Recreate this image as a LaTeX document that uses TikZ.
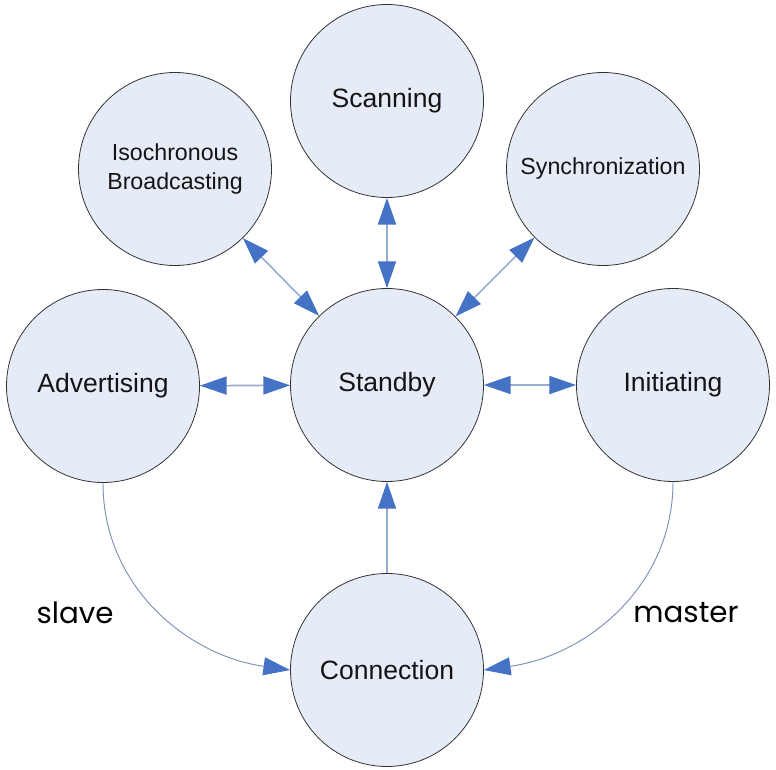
\documentclass[tikz,border=0pt]{standalone}
\usepackage{fontspec}
\setmainfont{Liberation Sans}
\newfontfamily\roleFont{Poppins}
\usetikzlibrary{arrows.meta}

\definecolor{stateFill}{RGB}{230,236,247}
\definecolor{tipBlue}{RGB}{68,114,196}
\definecolor{linkLine}{RGB}{150,172,208}
\definecolor{arcLine}{RGB}{125,143,180}

\tikzset{every picture/.style={line width=0.75pt}}
\tikzset{
	state/.style={circle, draw=black!80, fill=stateFill, line width=0.6pt, minimum size=144.75pt, inner sep=0pt, align=center, text=black!92, font=\fontsize{19.9}{22}\selectfont},
	statesmall/.style={state, font=\fontsize{17.4}{21.8}\selectfont},
	tipA/.tip={Triangle[length=20pt,width=13.5pt,color=tipBlue]},
	twoway/.style={draw=linkLine, line width=1.2pt, tipA-tipA},
	oneway/.style={draw=linkLine, line width=1.2pt, -tipA},
	arcway/.style={draw=arcLine, line width=0.7pt, -tipA},
	role/.style={font=\roleFont\fontsize{22}{26}\selectfont}
}

\begin{document}
\begin{tikzpicture}[x=0.75pt,y=0.75pt,yscale=-1,xscale=1]
	\useasboundingbox (0,0) rectangle (776,770);

	% States
	\node [state] (scan) at (387,101) {Scanning};
	\node [statesmall] (iso) at (175,169) {Isochronous\\Broadcasting};
	\node [statesmall] (sync) at (603,169) {Synchronization};
	\node [state] (adv) at (103,386) {Advertising};
	\node [state] (stand) at (387,385) {Standby};
	\node [state] (init) at (673,385) {Initiating};
	\node [state] (conn) at (387,670) {Connection};

	% Straight Lines
	\draw [twoway] (iso) -- (stand);
	\draw [twoway] (scan) -- (stand);
	\draw [twoway] (sync) -- (stand);
	\draw [twoway] (adv) -- (stand);
	\draw [twoway] (stand) -- (init);
	\draw [oneway] (conn) -- (stand);

	% Curve Lines (yscale=-1 flips the angles)
	\draw [arcway] (adv.south) to[out=90,in=-172] (conn.west);
	\draw [arcway] (init.south) to[out=90,in=-8] (conn.east);

	% Text Node
	\node [role] (slave) at (75,613) {slave};
	% Text Node
	\node [role] (master) at (686,613) {master};

\end{tikzpicture}
\end{document}
